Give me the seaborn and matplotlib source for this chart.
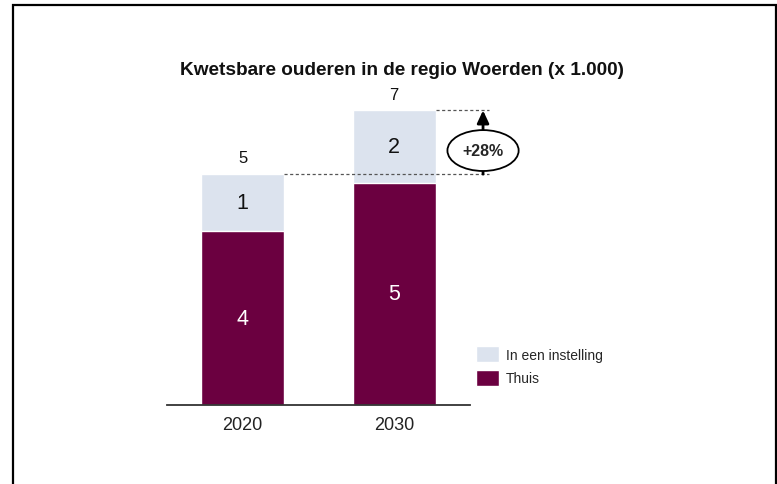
import matplotlib
matplotlib.use("Agg")
import matplotlib.pyplot as plt
import matplotlib.patches as mpatches
import seaborn as sns
import pandas as pd

# data (x 1.000)
jaren = ["2020", "2030"]
thuis = [3.95, 5.05]
instelling = [1.30, 1.65]
reeksen = ["In een instelling", "Thuis"]

kleur_thuis = "#6B0040"
kleur_inst = "#DCE3EE"

totaal = [a + b for a, b in zip(thuis, instelling)]
df = pd.DataFrame({"jaar": jaren, "thuis": thuis, "instelling": instelling, "totaal": totaal})

sns.set_style("white")
plt.rcParams["font.family"] = ["Liberation Sans", "DejaVu Sans"]

fig = plt.figure(figsize=(7.77, 4.85), dpi=100)
ax = fig.add_axes([0.2149, 0.1629, 0.39, 0.68])

# stacked bars: total first, thuis on top of it
sns.barplot(data=df, x="jaar", y="totaal", color=kleur_inst, saturation=1, width=0.55, ax=ax)
sns.barplot(data=df, x="jaar", y="thuis", color=kleur_thuis, saturation=1, width=0.55, ax=ax)

ax.set_xlim(-0.5, 1.5)
ax.set_ylim(0, 7.5)
ax.set_xlabel("")
ax.set_ylabel("")
ax.set_yticks([])
ax.tick_params(axis="x", length=0, labelsize=13, pad=8, labelcolor="#222222")
for s in ["left", "right", "top"]:
    ax.spines[s].set_visible(False)
ax.spines["bottom"].set_color("#333333")
ax.spines["bottom"].set_linewidth(1.3)

# labels
for i in range(len(jaren)):
    ax.text(i, thuis[i] / 2, f"{round(thuis[i])}", ha="center", va="center",
            color="white", fontsize=15.5)
    ax.text(i, thuis[i] + instelling[i] / 2, f"{round(instelling[i])}", ha="center",
            va="center", color="#111111", fontsize=15.5)
    ax.text(i, totaal[i] + 0.2, f"{round(totaal[i])}", ha="center", va="bottom",
            color="#111111", fontsize=12)

# growth annotation
groei = (totaal[1] / totaal[0] - 1) * 100
ax.plot([0.275, 1.626], [totaal[0], totaal[0]], ls=(0, (2.5, 2)), lw=0.9,
        color="#555555", clip_on=False)
ax.plot([1.275, 1.626], [totaal[1], totaal[1]], ls=(0, (2.5, 2)), lw=0.9,
        color="#555555", clip_on=False)
ax.annotate("", xy=(1.586, totaal[1]), xytext=(1.586, totaal[0]),
            arrowprops=dict(arrowstyle="-|>,head_width=0.35,head_length=0.75",
                            lw=2.0, color="black", shrinkA=0, shrinkB=0),
            annotation_clip=False)
midden = totaal[0] + 0.37 * (totaal[1] - totaal[0])
ell = mpatches.Ellipse((1.586, midden), 0.47, 0.93, facecolor="white",
                       edgecolor="black", lw=1.3, clip_on=False, zorder=5)
ax.add_patch(ell)
ax.text(1.586, midden, f"+{groei:.0f}%", ha="center", va="center",
        fontsize=11.5, fontweight="bold", zorder=6)

# title
fig.text(0.517, 0.855, "Kwetsbare ouderen in de regio Woerden (x 1.000)",
         ha="center", va="center", fontsize=13.7, fontweight="bold", color="#111111")

# legend
handles = [mpatches.Patch(facecolor=kleur_inst, label=reeksen[0]),
           mpatches.Patch(facecolor=kleur_thuis, label=reeksen[1])]
fig.legend(handles=handles, loc="upper left", bbox_to_anchor=(0.597, 0.31),
           frameon=False, fontsize=10, handlelength=1.6, handleheight=1.4,
           handletextpad=0.5, labelspacing=0.55)

# outer frame
frame = mpatches.Rectangle((13 / 777, -0.05), 763 / 777, 1.05 - 6 / 485,
                           transform=fig.transFigure, fill=False,
                           edgecolor="black", lw=1.6)
fig.patches.append(frame)

fig.savefig("out.png", dpi=100)
